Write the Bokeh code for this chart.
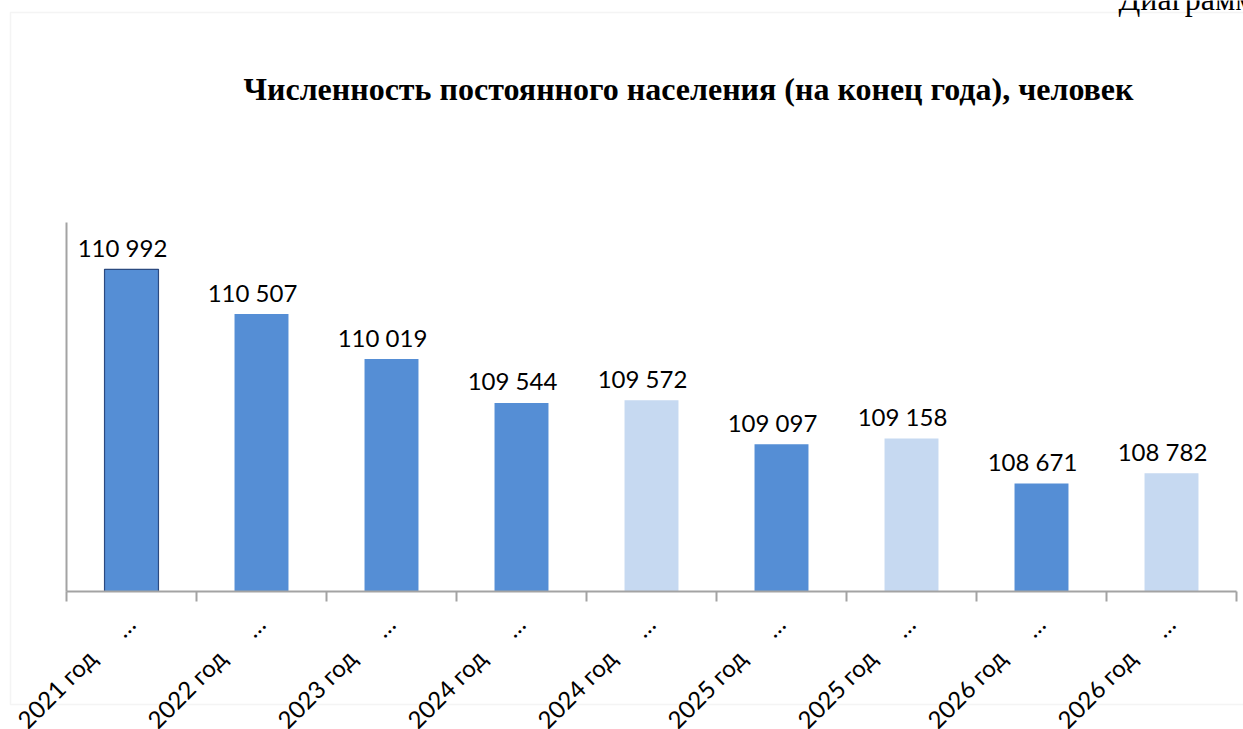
import numpy as np
from bokeh.plotting import figure
from bokeh.models import ColumnDataSource, Label, BoxAnnotation, Range1d
from bokeh.core.properties import value
from bokeh.embed import file_html
from bokeh.resources import INLINE

# ---- data ----
title = "Численность постоянного населения (на конец года), человек"
corner_text = "Диаграмма"
tick_labels = ["2021 год", "2022 год", "2023 год", "2024 год", "2024 год",
               "2025 год", "2025 год", "2026 год", "2026 год"]
tick_suffix = ["…"] * 9
values = [110992, 110507, 110019, 109544, 109572, 109097, 109158, 108671, 108782]
is_estimate = [False, False, False, False, True, False, True, False, True]
highlight = [True, False, False, False, False, False, False, False, False]

AX_MIN, AX_MAX = 107500, 111500

# ---- layout geometry (pixels in figure) ----
W, H = 1243, 729
left_px = 66          # value axis position from figure left
axis_y_px = 591       # category axis position from figure top
axis_top_px = 222     # top of value axis from figure top
cat_w = 130           # width of one category slot
n = len(values)
ppu = (axis_y_px - axis_top_px) / (AX_MAX - AX_MIN)
y_start = AX_MIN - (H - axis_y_px) / ppu
y_end = AX_MAX + axis_top_px / ppu
x_start = -0.5 - left_px / cat_w
x_end = -0.5 + (W - left_px) / cat_w

DARK = "#558ED5"
LIGHT = "#C6D9F1"
AXIS = "#A3A3A3"

xs = list(range(n))
src = ColumnDataSource(dict(
    x=xs,
    value=values,
    label=[f"{v:,}".replace(",", " ") for v in values],
    color=[LIGHT if e else DARK for e in is_estimate],
    line_alpha=[1.0 if h else 0.0 for h in highlight],
    tick=tick_labels,
    suffix=tick_suffix,
))

p = figure(width=W, height=H, x_range=Range1d(x_start, x_end),
           y_range=Range1d(y_start, y_end), output_backend="svg",
           toolbar_location=None, min_border=0,
           x_axis_type=None, y_axis_type=None)
p.outline_line_color = None
p.background_fill_color = "white"
p.border_fill_color = "white"

# chart border
p.add_layout(BoxAnnotation(left=10, right=1300, top=H - 12, bottom=H - 704,
                           left_units="screen", right_units="screen",
                           top_units="screen", bottom_units="screen",
                           fill_color=None, line_color="#D9D9D9", line_width=1.5,
                           level="underlay"))

# bars
p.vbar(x="x", top="value", bottom=AX_MIN, width=0.415, source=src,
       fill_color="color", line_color="#2B4A80", line_alpha="line_alpha",
       line_width=1.2)

# data labels
p.text(x="x", y="value", text="label", source=src, text_align="center",
       text_baseline="alphabetic", x_offset=-9, y_offset=-22,
       text_font=value("Lato"), text_font_size="24px", text_color="#000000")

# axes
p.segment(x0=[-0.5], y0=[AX_MIN], x1=[n - 0.5], y1=[AX_MIN],
          line_color=AXIS, line_width=2)
p.segment(x0=[-0.5], y0=[AX_MIN], x1=[-0.5], y1=[AX_MAX],
          line_color=AXIS, line_width=2)
p.ray(x=[i - 0.5 for i in range(n + 1)], y=AX_MIN, length=10,
      length_units="screen", angle=-np.pi / 2, line_color=AXIS, line_width=2)

# category labels (rotated)
p.text(x="x", y=AX_MIN, text="tick", source=src, angle=np.pi / 4,
       text_align="right", text_baseline="alphabetic", x_offset=-40,
       y_offset=62, text_font=value("Lato"), text_font_size="24px",
       text_color="#000000")
p.text(x="x", y=AX_MIN, text="suffix", source=src, angle=np.pi / 4,
       text_align="right", text_baseline="alphabetic", x_offset=-1,
       y_offset=28, text_font=value("Lato"), text_font_size="24px",
       text_color="#000000")

# title
p.add_layout(Label(x=688, y=H - 88, x_units="screen", y_units="screen",
                   text=title, text_align="center", text_baseline="alphabetic",
                   text_font="Liberation Serif", text_font_style="bold",
                   text_font_size="32px", text_color="#000000"))

# cut-off caption at the top right
p.add_layout(Label(x=1118, y=H + 2, x_units="screen", y_units="screen",
                   text=corner_text, text_align="left", text_baseline="alphabetic",
                   text_font="Liberation Serif", text_font_size="32px",
                   text_color="#000000"))

open("out.html", "w").write(file_html(p, INLINE))
